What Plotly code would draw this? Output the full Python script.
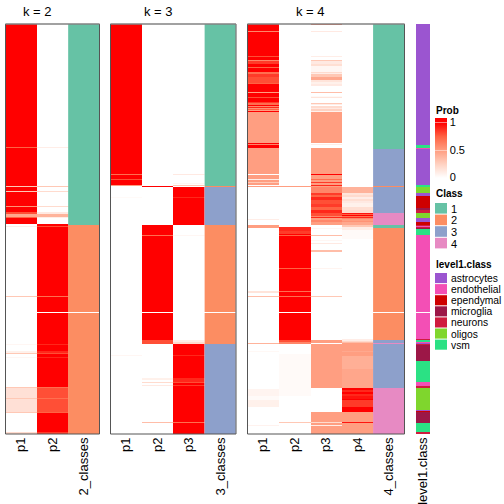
import numpy as np
import plotly.graph_objects as go

N_ROWS = 410
# Each series is a run list: (first sample row, value)
K2_P1 = [(0,1),(123,.75),(124,1),(162,.3),(163,1),(167,.3),(168,1),(182,.55),(183,1),(188,.8),(190,.45),(193,.75),(194,1),(200,0),(202,.1),(203,0),(272,.3),(273,0),(320,.05),(321,0),(327,.08),(329,.3),(330,0),(333,.05),(334,0),(363,.3),(364,.17),(374,.3),(375,.17),(388,.3),(389,0),(408,.2)]
K2_P2 = [(0,0),(123,.1),(124,0),(162,.3),(163,0),(167,.2),(168,0),(182,.2),(183,0),(188,.12),(190,.4),(193,.1),(194,0),(200,1),(202,.8),(203,1),(272,.7),(273,1),(288,0),(289,1),(320,.9),(321,1),(327,.9),(329,.8),(330,1),(333,.9),(334,1),(363,.7),(364,.8),(374,.7),(375,.8),(388,.75),(389,1),(408,.85)]
K2_CLASS = [(0,1),(201,2),(288,0),(289,2)]

K3_P1 = [(0,1),(150,.7),(151,1),(155,.8),(156,1),(161,.5),(162,0),(173,.03),(174,0),(331,.05),(332,0)]
K3_P2 = [(0,0),(162,1),(163,0),(201,1),(211,.7),(212,1),(288,0),(289,1),(316,.8),(320,0),(354,.08),(356,0),(358,.2),(359,0),(361,.12),(362,0),(398,.35),(399,0)]
K3_P3 = [(0,0),(150,.12),(151,0),(159,.05),(160,0),(161,.3),(162,0),(163,1),(173,.9),(174,1),(201,0),(211,.05),(212,0),(316,.1),(318,.2),(320,1),(331,.9),(332,1),(354,.9),(358,.8),(359,1),(361,.85),(362,1),(398,.7),(399,1)]
K3_CLASS = [(0,1),(162,2),(163,3),(201,2),(288,0),(289,2),(320,3)]

K4_P1 = [(0,1),(7,.6),(8,1),(32,.8),(33,1),(36,.6),(37,.85),(40,1),(43,.75),(44,1),(48,.7),(50,.85),(53,.8),(59,.75),(60,1),(68,.5),(69,1),(73,.8),(74,1),(78,.85),(79,.7),(81,1),(82,.6),(83,.9),(84,.55),(85,.75),(86,.5),(87,1),(88,.5),(119,1),(120,.6),(121,1),(124,.5),(150,0),(151,.5),(155,.1),(156,.5),(158,.3),(159,.5),(161,0),(162,.5),(163,0),(195,.1),(196,0),(201,.5),(204,0),(267,.15),(269,0),(272,.35),(273,0),(319,.4),(320,0),(327,.04),(328,0),(365,.06),(372,.03),(376,.08),(383,0),(401,.07),(402,0)]
K4_P2 = [(0,0),(162,.5),(163,0),(203,.9),(207,.85),(210,1),(211,.75),(212,1),(244,.75),(245,1),(267,.7),(268,1),(272,.7),(273,1),(288,0),(289,1),(316,.8),(318,.6),(320,0),(330,.03),(372,0),(398,.3),(399,0)]
K4_P3 = [(0,.7),(1,0),(7,.12),(8,0),(32,.1),(33,0),(36,.3),(37,.12),(40,.18),(42,.05),(48,.2),(49,.1),(50,.3),(53,.45),(56,.15),(58,.08),(60,.12),(62,0),(68,.35),(69,0),(72,.04),(73,.15),(74,0),(79,.3),(80,.1),(81,0),(82,.2),(84,.12),(85,.25),(87,.08),(88,.5),(119,0),(120,.1),(121,0),(124,.5),(150,1),(151,.5),(155,.7),(156,.5),(158,.85),(159,.5),(161,.9),(162,.5),(163,.6),(169,.85),(171,.75),(173,.9),(176,.8),(180,.85),(183,.75),(186,.9),(189,.8),(192,.6),(193,.9),(194,.5),(196,.6),(198,.5),(201,0),(204,.05),(205,0),(211,.35),(212,0),(216,.05),(217,0),(219,.12),(220,0),(226,.35),(228,0),(244,.06),(245,0),(272,.3),(273,0),(316,.5),(319,0),(320,.5),(364,0),(388,.5),(398,.2),(399,.5),(401,.1),(402,.5)]
K4_P4 = [(0,0),(163,.4),(169,.15),(171,.2),(173,.1),(175,.18),(177,.12),(179,.08),(183,.18),(186,.2),(189,.95),(190,.75),(191,1),(192,.7),(193,.9),(194,.6),(195,.5),(197,.55),(198,.45),(201,.3),(203,.1),(206,.03),(215,0),(315,.1),(317,.2),(318,.35),(319,.5),(327,.45),(328,.5),(332,.42),(345,.46),(364,1),(366,.9),(368,1),(370,.9),(372,.95),(375,1),(376,.85),(383,1),(388,.5),(398,.95),(399,.5)]
K4_CLASS = [(0,1),(125,3),(162,2),(163,3),(189,4),(201,1),(204,2),(288,0),(289,2),(316,3),(319,4),(320,3),(364,4)]

LEVEL1 = [(0,1),(121,7),(124,2),(125,1),(161,7),(163,6),(169,1),(172,3),(184,4),(186,5),(189,6),(194,1),(198,3),(201,5),(202,2),(203,5),(204,4),(205,7),(211,2),(288,0),(289,2),(315,5),(316,7),(318,2),(319,1),(320,5),(321,4),(337,7),(358,2),(362,5),(364,6),(386,1),(387,3),(388,4),(399,7),(408,5)]

CLASS_NAMES = ["1", "2", "3", "4"]
CLASS_COLORS = ["#66C2A5", "#FC8D62", "#8DA0CB", "#E78AC3"]
LEVEL_NAMES = ["astrocytes", "endothelial", "ependymal", "microglia", "neurons", "oligos", "vsm"]
LEVEL_COLORS = ["#9B55D0", "#F34FB5", "#CE0000", "#9C1747", "#CF1B3E", "#7FD62D", "#2BE184"]
PROB_SCALE = [[0, "#FFFFFF"], [.25, "#FFD2C2"], [.5, "#FF9E81"], [.75, "#FF6344"], [1, "#FF0000"]]

W = 504
FONT = "Liberation Sans"


def expand(runs):
    out = np.zeros(N_ROWS)
    for i, (start, value) in enumerate(runs):
        end = runs[i + 1][0] if i + 1 < len(runs) else N_ROWS
        out[start:end] = value
    return out


def stepped(colors):
    n = len(colors)
    stops = []
    for i, c in enumerate(colors):
        stops += [[i / n, c], [(i + 1) / n, c]]
    return stops


fig = go.Figure()
rows = list(range(N_ROWS))
top, bottom = 24, 434
ydom = [1 - bottom / W, 1 - top / W]

panels = [
    ("k = 2", (5.5, 99.5), [("p1", K2_P1), ("p2", K2_P2)], "2_classes", K2_CLASS, 37),
    ("k = 3", (110.5, 236), [("p1", K3_P1), ("p2", K3_P2), ("p3", K3_P3)], "3_classes", K3_CLASS, 158),
    ("k = 4", (247.5, 404.5), [("p1", K4_P1), ("p2", K4_P2), ("p3", K4_P3), ("p4", K4_P4)], "4_classes", K4_CLASS, 310),
]
layout = {}
shapes = []
for i, (title, (x0, x1), cols, cname, cvals, tx) in enumerate(panels):
    ax = i + 1
    xn = "x" if ax == 1 else f"x{ax}"
    names = [c[0] for c in cols]
    z = np.column_stack([expand(c[1]) for c in cols])
    fig.add_trace(go.Heatmap(z=z, x0=0, dx=1, y=rows, xaxis=xn, yaxis="y", zmin=0, zmax=1, colorscale=PROB_SCALE,
                             showscale=i == 0, hoverinfo="skip",
                             colorbar=dict(lenmode="pixels", len=55, thicknessmode="pixels", thickness=12,
                                           x=435 / W, xanchor="left", y=1 - 122.5 / W, yanchor="top", ypad=0, xpad=0,
                                           outlinewidth=0, tickvals=[0, .5, 1], ticktext=["0", "0.5", "1"],
                                           ticks="inside", ticklen=12, tickcolor="rgba(255,255,255,0.45)", tickwidth=1,
                                           tickfont=dict(family=FONT, size=11, color="#000000"))))
    fig.add_trace(go.Heatmap(z=expand(cvals).reshape(-1, 1), x0=len(names), dx=1, y=rows, xaxis=xn, yaxis="y",
                             zmin=-.5, zmax=4.5, colorscale=stepped(["#FFFFFF"] + CLASS_COLORS), showscale=False,
                             hoverinfo="skip"))
    layout["xaxis" if ax == 1 else f"xaxis{ax}"] = dict(
        domain=[x0 / W, x1 / W], range=[-.5, len(names) + .5], anchor="y", side="bottom", showline=False,
        showgrid=False, zeroline=False, ticks="", tickangle=-90, tickmode="array",
        tickvals=list(range(len(names) + 1)), ticktext=names + [cname],
        tickfont=dict(family=FONT, size=13, color="#000000"))
    fig.add_annotation(x=tx / W, y=1 - 11 / W, xref="paper", yref="paper", text=title, showarrow=False,
                       xanchor="center", yanchor="middle", font=dict(family=FONT, size=13, color="#000000"))
    # panel frame, with the lighter top edge of the reference
    shapes.append(dict(type="rect", xref="paper", yref="paper", x0=x0 / W, x1=x1 / W, y0=ydom[0], y1=ydom[1],
                       line=dict(color="#555555", width=1), layer="above"))
    shapes.append(dict(type="line", xref="paper", yref="paper", x0=x0 / W, x1=x1 / W, y0=ydom[1], y1=ydom[1],
                       line=dict(color="#999999", width=1), layer="above"))

# level1.class annotation column
fig.add_trace(go.Heatmap(z=expand(LEVEL1).reshape(-1, 1), x0=0, dx=1, y=rows, xaxis="x4", yaxis="y",
                         zmin=-.5, zmax=7.5, colorscale=stepped(["#FFFFFF"] + LEVEL_COLORS), showscale=False,
                         hoverinfo="skip"))
layout["xaxis4"] = dict(domain=[416 / W, 430 / W], anchor="y", range=[-.5, .5], showgrid=False,
                        zeroline=False, showline=False, ticks="", tickangle=-90, tickmode="array",
                        tickvals=[0], ticktext=["level1.class"],
                        tickfont=dict(family=FONT, size=13, color="#000000"))
layout["yaxis"] = dict(domain=ydom, range=[N_ROWS - .5, -.5], showticklabels=False, ticks="", showgrid=False,
                       zeroline=False, showline=False)

# red cap above the colour bar
shapes.append(dict(type="rect", xref="paper", yref="paper", x0=435 / W, x1=447 / W, y0=1 - 118 / W, y1=1 - 122.5 / W,
                   fillcolor="#FF0000", line=dict(width=0)))


def legend_block(title, title_y, first_y, step, names, colors, size):
    fig.add_annotation(x=435 / W, y=1 - title_y / W, xref="paper", yref="paper", text=f"<b>{title}</b>", showarrow=False,
                       xanchor="left", yanchor="middle", xshift=-1, font=dict(family=FONT, size=10, color="#000000"))
    for k, (n, c) in enumerate(zip(names, colors)):
        y0 = first_y + k * step
        shapes.append(dict(type="rect", xref="paper", yref="paper", x0=435 / W, x1=447 / W,
                           y0=1 - y0 / W, y1=1 - (y0 + step - 1) / W, fillcolor=c, line=dict(width=0)))
        fig.add_annotation(x=450 / W, y=1 - (y0 + step / 2) / W, xref="paper", yref="paper", text=n, showarrow=False,
                           xanchor="left", yanchor="middle", xshift=-1, font=dict(family=FONT, size=size, color="#000000"))


legend_block("Prob", 110, 0, 0, [], [], 10)
legend_block("Class", 193, 203, 11.6, CLASS_NAMES, CLASS_COLORS, 11)
legend_block("level1.class", 264, 273, 11.1, LEVEL_NAMES, LEVEL_COLORS, 10.3)

fig.update_layout(width=W, height=W, margin=dict(l=0, r=0, t=0, b=0), paper_bgcolor="#FFFFFF", plot_bgcolor="#FFFFFF",
                  showlegend=False, shapes=shapes, **layout)
fig.write_html("out.html", config={"displayModeBar": False}, post_script="document.body.style.margin='0';")
